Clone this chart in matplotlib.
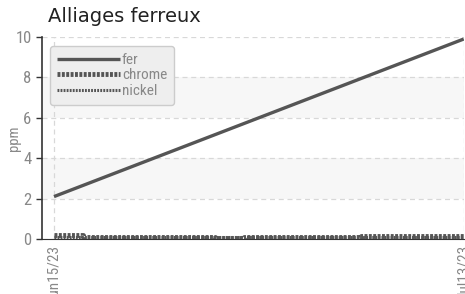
import matplotlib
matplotlib.use("Agg")
import matplotlib.pyplot as plt
import matplotlib.dates as mdates
import datetime as dt

title = "Alliages ferreux"
ylabel = "ppm"
series_names = ["fer", "chrome", "nickel"]

fer_dates = ["2023-06-15", "2023-07-13"]
fer_vals = [2.1, 9.9]

chrome_dates = ["2023-06-15", "2023-06-17", "2023-06-17", "2023-06-26", "2023-06-26",
                "2023-06-28", "2023-06-28", "2023-07-06", "2023-07-06", "2023-07-13"]
chrome_vals = [0.2, 0.2, 0.1, 0.1, 0.03, 0.03, 0.1, 0.1, 0.15, 0.15]

nickel_dates = ["2023-06-15", "2023-07-13"]
nickel_vals = [0.08, 0.08]

tick_dates = ["2023-06-15", "2023-07-13"]
tick_labels = ["Jun15/23", "Jul13/23"]

def d(s):
    return dt.datetime.strptime(s, "%Y-%m-%d")

font = ["Roboto Condensed", "DejaVu Sans"]
plt.rcParams['font.family'] = font

fig = plt.figure(figsize=(4.65, 2.94), dpi=100)
ax = fig.add_axes([42/465, 55/294, (464-42)/465, (239-37)/294])

col = "#555555"
ax.plot([d(s) for s in fer_dates], fer_vals, color=col, lw=2.4, solid_capstyle="butt")
ax.plot([d(s) for s in chrome_dates], chrome_vals, color=col, lw=3.5, linestyle=(0, (0.6, 0.3)))
ax.plot([d(s) for s in nickel_dates], nickel_vals, color=col, lw=2.2, linestyle=(0, (0.6, 0.4)))

x0 = mdates.date2num(d(tick_dates[0])) - 0.82
x1 = mdates.date2num(d(tick_dates[1])) + 0.02
ax.set_xlim(x0, x1)
ax.set_ylim(0, 10)

for lo in (2, 6):
    ax.axhspan(lo, lo + 2, color="#f7f7f7", zorder=0, lw=0)

ax.set_yticks([0, 2, 4, 6, 8, 10])
ax.set_xticks([d(s) for s in tick_dates])
ax.set_xticklabels(tick_labels, rotation=90)
ax.grid(True, color="#d8d8d8", linestyle=(0, (4, 3)), lw=0.9)
ax.set_axisbelow(True)

ax.tick_params(axis="y", colors="#333333", labelcolor="#888888", labelsize=12, length=4, width=1)
ax.tick_params(axis="x", colors="#333333", labelcolor="#888888", labelsize=11, length=0, pad=4)
for s in ("top", "right"):
    ax.spines[s].set_visible(False)
ax.spines["left"].set_color("#333333")
ax.spines["bottom"].set_color("#333333")
ax.spines["left"].set_linewidth(1.2)

ax.set_ylabel(ylabel, color="#888888", fontsize=10.5)
ax.yaxis.set_label_coords(-0.05, 0.5)
fig.text(48/465, 1 - 16/294, title, fontsize=14, color="#222222", va="center",
         family=["DejaVu Sans"])

leg = ax.legend(series_names, loc="upper left", bbox_to_anchor=(0.019, 0.955),
                frameon=True, fontsize=11, handlelength=4.1, handletextpad=0.15,
                labelspacing=0.1, borderpad=0.45, borderaxespad=0, fancybox=True,
                labelcolor="#888888")
leg.get_frame().set_facecolor("#eeeeee")
leg.get_frame().set_edgecolor("#cccccc")
leg.get_frame().set_alpha(1)

fig.savefig("out.png", dpi=100)
